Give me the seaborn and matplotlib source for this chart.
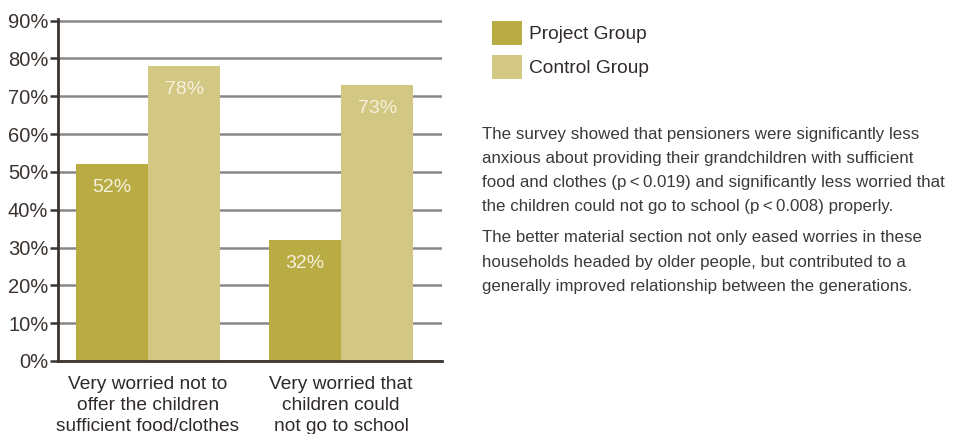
import pandas as pd
import matplotlib
matplotlib.use("Agg")
import matplotlib.pyplot as plt
import seaborn as sns

# chart data
categories = ["Very worried not to\noffer the children\nsufficient food/clothes",
              "Very worried that\nchildren could\nnot go to school"]
groups = ["Project Group", "Control Group"]
project_vals = [52, 32]
control_vals = [78, 73]
group_colors = ["#b9ac45", "#d3c883"]

para_lines = [
    ["The survey showed that pensioners were significantly less",
     "anxious about providing their grandchildren with sufficient",
     "food and clothes (p\u2009<\u20090.019) and significantly less worried that",
     "the children could not go to school (p\u2009<\u20090.008) properly."],
    ["The better material section not only eased worries in these",
     "households headed by older people, but contributed to a",
     "generally improved relationship between the generations."],
]

df = pd.DataFrame({
    "category": categories * 2,
    "group": [groups[0]] * 2 + [groups[1]] * 2,
    "value": project_vals + control_vals,
})

sns.set_style("white")
plt.rcParams["font.family"] = ["Liberation Sans", "DejaVu Sans"]

W, H = 954, 434
fig = plt.figure(figsize=(W / 100, H / 100), dpi=100)
ax = fig.add_axes([58 / W, 1 - 361 / H, (442 - 58) / W, (361 - 19) / H])

sns.barplot(data=df, x="category", y="value", hue="group", hue_order=groups,
            palette=group_colors, width=0.75, saturation=1, linewidth=0,
            ax=ax, zorder=2)

# bar value labels inside the top of each bar
for cont in ax.containers:
    for bar in cont:
        h = bar.get_height()
        ax.annotate(f"{h:.0f}%", (bar.get_x() + bar.get_width() / 2, h),
                    xytext=(0, -17), textcoords="offset points",
                    ha="center", va="center", color="#f6f1dc", fontsize=14)

ax.set_ylim(0, 90.4)
ax.set_xlim(-0.466, 1.523)
ax.set_yticks(range(0, 91, 10))
ax.set_yticklabels([f"{v}%" for v in range(0, 91, 10)], fontsize=14.5, color="#3b3431")
ax.set_xticks([0, 1])
ax.set_xticklabels(categories, fontsize=13.8, color="#2f2a28", linespacing=1.3)
ax.set_xlabel("")
ax.set_ylabel("")

ax.yaxis.grid(True, color="#8c8587", lw=1.8)
ax.set_axisbelow(True)
for s in ["top", "right"]:
    ax.spines[s].set_visible(False)
for s in ["left", "bottom"]:
    ax.spines[s].set_color("#3b3431")
    ax.spines[s].set_linewidth(2)
ax.tick_params(axis="y", left=True, length=6, width=1.8, color="#3b3431", pad=1)
ax.tick_params(axis="x", bottom=False, pad=7.5)

handles, labels = ax.get_legend_handles_labels()
ax.get_legend().remove()
fig.legend(handles, labels, loc="upper left", bbox_to_anchor=(492 / W, 1 - 21 / H),
           frameon=False, fontsize=13.8, handlelength=1.55, handleheight=1.55,
           handletextpad=0.4, labelspacing=0.5, borderpad=0, borderaxespad=0,
           labelcolor="#2f2a28")

line_y = [[135, 159, 183, 207], [238, 262, 286]]
for lines, ys in zip(para_lines, line_y):
    for txt, y in zip(lines, ys):
        fig.text(482 / W, 1 - y / H, txt, fontsize=12.2, color="#3a3a3a",
                 ha="left", va="center")

fig.savefig("out.png", dpi=100)
